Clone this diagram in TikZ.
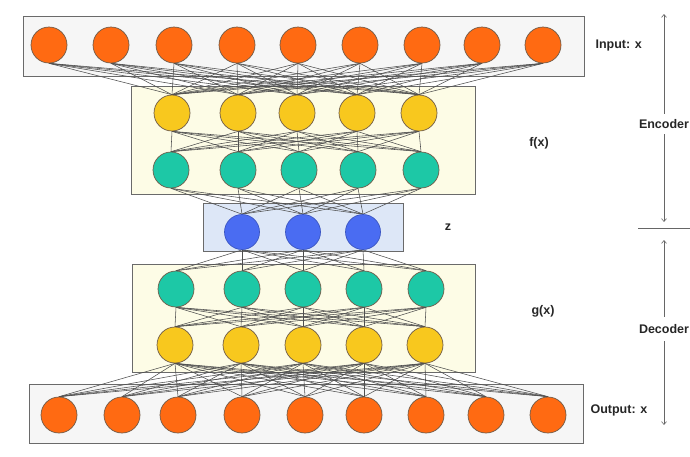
\documentclass[tikz,border=0pt]{standalone}
\usepackage{fontspec}
\setmainfont{Liberation Sans}
\usetikzlibrary{arrows.meta}
\pgfdeclarelayer{background}
\pgfsetlayers{background,main}
\definecolor{corange}{HTML}{FF6A12}
\definecolor{cyellow}{HTML}{F8C81E}
\definecolor{cteal}{HTML}{1DC8A6}
\definecolor{cblue}{HTML}{4A6CF2}
\definecolor{cedge}{HTML}{6E5A48}
\definecolor{boxgray}{HTML}{F6F6F6}
\definecolor{boxyellow}{HTML}{FDFCE6}
\definecolor{boxblue}{HTML}{DDE7F7}
\definecolor{boxline}{HTML}{6A6A6A}
\definecolor{wire}{HTML}{4E4E4E}
\tikzset{
  neuron/.style={circle,draw=cedge,line width=0.7pt,minimum size=36pt,inner sep=0pt},
  layerbox/.style={draw=boxline,line width=0.9pt},
  wirestyle/.style={draw=wire,line width=0.55pt},
  lbl/.style={font=\fontsize{12.5}{15}\selectfont\bfseries,text=black!85},
  sidearrow/.style={draw=gray!80!black,line width=0.6pt,-{Straight Barb[length=3pt,width=5pt]}}
}
\begin{document}
\begin{tikzpicture}[x=1pt,y=-1pt]
\useasboundingbox (0,0) rectangle (690,456);
% neurons
\foreach \x [count=\i] in {49,111,174,237,298,360,422,482,543}
  \node[neuron,fill=corange] (i\i) at (\x,45) {};
\foreach \x [count=\i] in {172,238,297,357,419}
  \node[neuron,fill=cyellow] (e\i) at (\x,113) {};
\foreach \x [count=\i] in {171,238,299,358,421}
  \node[neuron,fill=cteal] (t\i) at (\x,170) {};
\foreach \x [count=\i] in {242,303,363}
  \node[neuron,fill=cblue,draw=cblue!80!black,minimum size=35pt] (z\i) at (\x,232) {};
\foreach \x [count=\i] in {176,242,303,364,426}
  \node[neuron,fill=cteal] (d\i) at (\x,289) {};
\foreach \x [count=\i] in {175,241,303,364,425}
  \node[neuron,fill=cyellow] (y\i) at (\x,345) {};
\foreach \x [count=\i] in {59,122,178,242,305,364,426,486,548}
  \node[neuron,fill=corange] (o\i) at (\x,415) {};
% boxes and wires behind the neurons
\begin{pgfonlayer}{background}
\draw[layerbox,fill=boxgray] (23,16) rectangle (584,76);
\draw[layerbox,fill=boxyellow] (131,86) rectangle (475,194);
\draw[layerbox,fill=boxblue] (203,203) rectangle (403,251);
\draw[layerbox,fill=boxyellow] (132,264) rectangle (475,372);
\draw[layerbox,fill=boxgray] (29,384) rectangle (583,443);
\foreach \a in {1,...,9} \foreach \b in {1,...,5} \path[wirestyle] (i\a.south) -- (e\b.north);
\foreach \a in {1,...,5} \foreach \b in {1,...,5} \path[wirestyle] (e\a.south) -- (t\b.north);
\foreach \a in {1,...,5} \foreach \b in {1,...,3} \path[wirestyle] (t\a.south) -- (z\b.north);
\foreach \a in {1,...,3} \foreach \b in {1,...,5} \path[wirestyle] (z\a.south) -- (d\b.north);
\foreach \a in {1,...,5} \foreach \b in {1,...,5} \path[wirestyle] (d\a.south) -- (y\b.north);
\foreach \a in {1,...,5} \foreach \b in {1,...,9} \path[wirestyle] (y\a.south) -- (o\b.north);
\end{pgfonlayer}
% labels
\node[lbl,anchor=west] (lin) at (592,45) {Input: x};
\node[lbl] (lf) at (539,143) {f(x)};
\node[lbl] (lz) at (448,227) {z};
\node[lbl] (lg) at (543,311) {g(x)};
\node[lbl,anchor=west] (lout) at (587,410) {Output: x};
\node[lbl,inner sep=0pt,minimum height=20pt] (enc) at (664,124) {Encoder};
\node[lbl,inner sep=0pt,minimum height=24pt] (dec) at (664,329) {Decoder};
\coordinate (encTop) at (664,14);
\coordinate (encBot) at (664,222);
\coordinate (decTop) at (664,240);
\coordinate (decBot) at (664,425);
\draw[sidearrow] (enc.north) -- (encTop);
\draw[sidearrow] (enc.south) -- (encBot);
\draw[sidearrow] (dec.north) -- (decTop);
\draw[sidearrow] (dec.south) -- (decBot);
\coordinate (sepL) at (638,228);
\coordinate (sepR) at (690,228);
\draw[draw=gray!80!black,line width=0.6pt] (sepL) -- (sepR);
\end{tikzpicture}
\end{document}
